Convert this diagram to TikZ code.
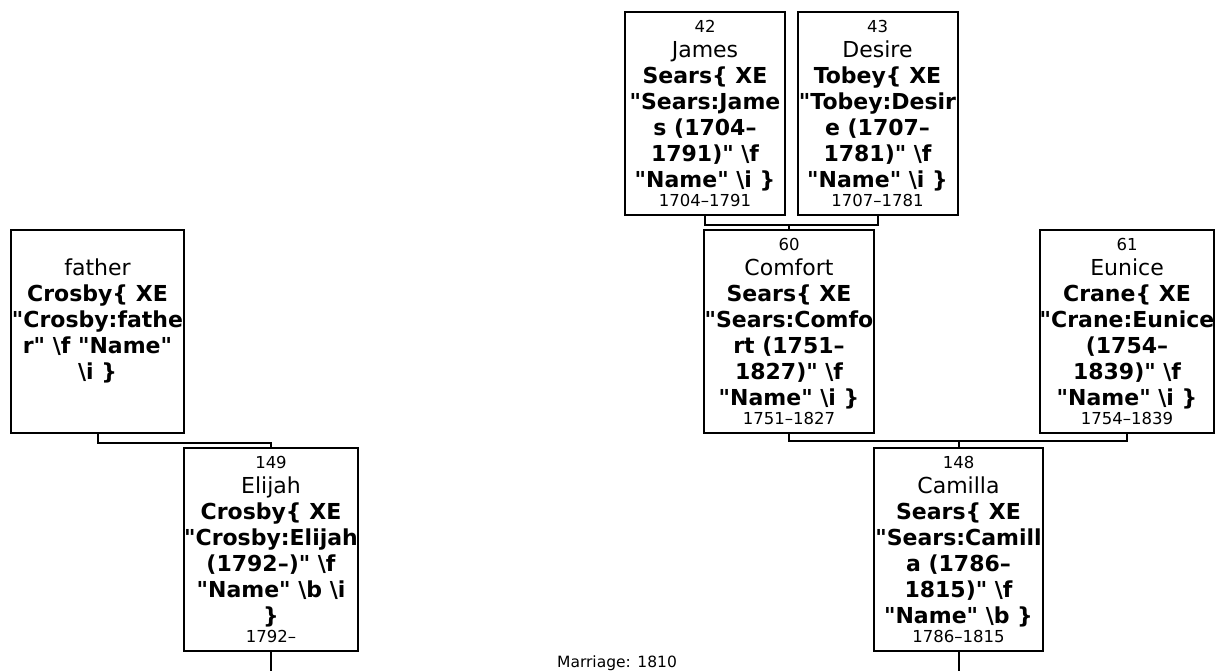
\documentclass[tikz,border=0pt]{standalone}
\usepackage{fontspec}
\setmainfont{DejaVu Sans}[Ligatures=TeXOff]
\usetikzlibrary{calc}

\newcommand\pnum[1]{{\fontsize{16.5}{26}\selectfont\mdseries #1}}
\newcommand\pname[1]{{\fontsize{22}{26}\selectfont\mdseries #1}}

\begin{document}
\begin{tikzpicture}[x=1pt,y=-1pt,
  person/.style={draw,line width=2pt,align=center,minimum width=170pt,minimum height=203pt,inner sep=0pt,
    font=\fontsize{22}{26}\selectfont\bfseries},
  link/.style={line width=2pt}]
  \useasboundingbox (0,0) rectangle (1225,670);
  % grandparents
  \node[person,minimum width=160pt](james) at (705,113){\pnum{42}\\[-1pt]\pname{James}\\Sears\{ XE\\"Sears:Jame\\s (1704–\\1791)" \textbackslash f\\"Name" \textbackslash i \}\\[-7pt]\pnum{1704–1791}};
  \node[person,minimum width=160pt](desire) at (877.5,113){\pnum{43}\\[-1pt]\pname{Desire}\\Tobey\{ XE\\"Tobey:Desir\\e (1707–\\1781)" \textbackslash f\\"Name" \textbackslash i \}\\[-7pt]\pnum{1707–1781}};
  % parents
  \node[person,minimum width=173pt](father) at (97.5,331){\pnum{\vphantom{1}}\\[-1pt]\pname{father}\\Crosby\{ XE\\"Crosby:fathe\\r" \textbackslash f "Name"\\\textbackslash i \}\\\vphantom{X}\\[-7pt]\pnum{\vphantom{1}}};
  \node[person](comfort) at (789,331.5){\pnum{60}\\[-1pt]\pname{Comfort}\\Sears\{ XE\\"Sears:Comfo\\rt (1751–\\1827)" \textbackslash f\\"Name" \textbackslash i \}\\[-7pt]\pnum{1751–1827}};
  \node[person](eunice) at (1127,331.5){\pnum{61}\\[-1pt]\pname{Eunice}\\Crane\{ XE\\"Crane:Eunice\\(1754–\\1839)" \textbackslash f\\"Name" \textbackslash i \}\\[-7pt]\pnum{1754–1839}};
  % couple
  \node[person,minimum width=174pt](elijah) at (271,549.5){\pnum{149}\\[-1pt]\pname{Elijah}\\Crosby\{ XE\\"Crosby:Elijah\\(1792–)" \textbackslash f\\"Name" \textbackslash b \textbackslash i\\\}\\[-7pt]\pnum{1792–}};
  \node[person,minimum width=169pt](camilla) at (958.5,549.5){\pnum{148}\\[-1pt]\pname{Camilla}\\Sears\{ XE\\"Sears:Camill\\a (1786–\\1815)" \textbackslash f\\"Name" \textbackslash b \}\\[-7pt]\pnum{1786–1815}};
  % family lines
  \coordinate (jdbar) at ($(james.south)+(0,9)$);
  \coordinate (cebar) at ($(comfort.south)+(0,7)$);
  \coordinate (fbar) at ($(father.south)+(0,9)$);
  \coordinate (ground) at (614,680);
  \draw[link] (james.south) -- (jdbar) -| (desire.south);
  \draw[link] (comfort.north) -- (comfort.north |- jdbar);
  \draw[link] (comfort.south) -- (cebar) -| (eunice.south);
  \draw[link] (camilla.north) -- (camilla.north |- cebar);
  \draw[link] (father.south) -- (fbar) -| (elijah.north);
  \draw[link] (elijah.south) -- (elijah.south |- ground);
  \draw[link] (camilla.south) -- (camilla.south |- ground);
  \node[font=\fontsize{15.5}{18}\selectfont,anchor=base](marriage) at (617,667){Marriage: 1810};
\end{tikzpicture}
\end{document}
